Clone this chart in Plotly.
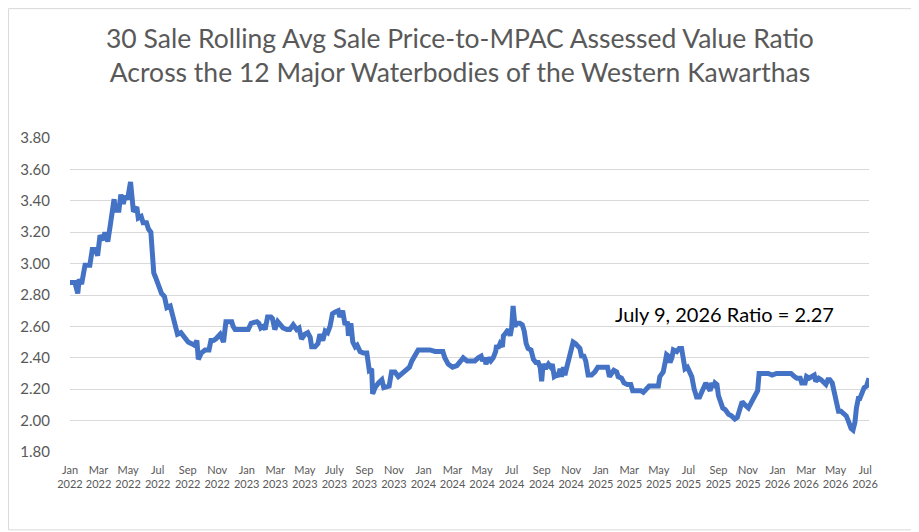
import pandas as pd
import plotly.graph_objects as go

# Sale dates expressed as days since 2022-01-01, and the 30-sale rolling avg ratio
start_date = "2022-01-01"
day_offsets = [
    0, 10, 16, 19, 24, 27, 31, 41, 46, 53, 57, 62, 69, 72, 78, 83, 86, 91, 94, 101,
    105, 110, 114, 119, 125, 129, 131, 138, 141, 147, 151, 158, 162, 167, 170, 173, 177, 182, 189, 195,
    200, 207, 211, 217, 222, 229, 235, 239, 244, 251, 257, 262, 265, 271, 279, 287, 291, 296, 301, 310,
    317, 322, 327, 334, 337, 341, 355, 368, 374, 386, 390, 394, 399, 403, 408, 415, 418, 423, 429, 436,
    440, 448, 454, 461, 468, 473, 478, 485, 491, 496, 499, 506, 512, 516, 522, 527, 532, 537, 542, 547,
    554, 557, 563, 568, 573, 575, 580, 584, 589, 593, 599, 606, 613, 618, 623, 625, 630, 637, 644, 648,
    655, 659, 664, 671, 678, 685, 690, 695, 701, 706, 712, 719, 730, 743, 754, 764, 770, 774, 781, 790,
    799, 807, 812, 820, 826, 836, 843, 849, 852, 856, 859, 864, 869, 874, 879, 881, 884, 888, 893, 895,
    898, 902, 905, 909, 912, 915, 919, 922, 929, 934, 938, 942, 946, 952, 957, 962, 967, 971, 974, 977,
    982, 988, 993, 996, 1000, 1005, 1008, 1012, 1015, 1019, 1022, 1026, 1030, 1035, 1039, 1044, 1048, 1053, 1057, 1060,
    1065, 1070, 1077, 1084, 1090, 1097, 1105, 1110, 1114, 1119, 1123, 1129, 1132, 1139, 1144, 1151, 1158, 1162, 1170, 1179,
    1184, 1191, 1196, 1205, 1215, 1218, 1222, 1225, 1229, 1232, 1236, 1239, 1243, 1246, 1253, 1258, 1263, 1267, 1270, 1275,
    1279, 1284, 1289, 1294, 1300, 1304, 1309, 1313, 1318, 1322, 1325, 1329, 1332, 1336, 1339, 1344, 1348, 1353, 1360, 1366,
    1373, 1378, 1384, 1388, 1394, 1401, 1406, 1412, 1416, 1420, 1423, 1432, 1442, 1450, 1459, 1470, 1480, 1489, 1496, 1501,
    1508, 1511, 1518, 1521, 1526, 1532, 1537, 1540, 1546, 1551, 1556, 1561, 1565, 1569, 1574, 1578, 1583, 1587, 1592, 1599,
    1603, 1607, 1613, 1617, 1621, 1624, 1628, 1631, 1635, 1640, 1645, 1650,
]
ratios = [
    2.88, 2.88, 2.81, 2.90, 2.87, 2.91, 2.99, 2.99, 3.09, 3.09, 3.05, 3.18, 3.15, 3.20, 3.14, 3.24, 3.32, 3.41, 3.34, 3.34,
    3.44, 3.38, 3.43, 3.41, 3.52, 3.41, 3.33, 3.36, 3.29, 3.30, 3.26, 3.26, 3.22, 3.20, 3.04, 2.94, 2.91, 2.86, 2.81, 2.79,
    2.72, 2.73, 2.68, 2.63, 2.55, 2.56, 2.54, 2.52, 2.50, 2.49, 2.48, 2.51, 2.39, 2.43, 2.45, 2.45, 2.51, 2.51, 2.52, 2.55,
    2.50, 2.63, 2.63, 2.63, 2.60, 2.58, 2.58, 2.58, 2.62, 2.63, 2.62, 2.59, 2.60, 2.58, 2.66, 2.66, 2.65, 2.58, 2.63, 2.61,
    2.59, 2.58, 2.58, 2.61, 2.58, 2.59, 2.52, 2.55, 2.56, 2.53, 2.47, 2.47, 2.49, 2.55, 2.51, 2.57, 2.56, 2.60, 2.68, 2.69,
    2.70, 2.66, 2.70, 2.61, 2.63, 2.54, 2.62, 2.50, 2.47, 2.48, 2.44, 2.43, 2.43, 2.32, 2.33, 2.17, 2.21, 2.24, 2.26, 2.21,
    2.22, 2.22, 2.31, 2.31, 2.28, 2.30, 2.31, 2.33, 2.34, 2.38, 2.41, 2.45, 2.45, 2.45, 2.44, 2.44, 2.44, 2.40, 2.36, 2.34,
    2.35, 2.38, 2.40, 2.38, 2.38, 2.38, 2.40, 2.41, 2.38, 2.40, 2.36, 2.40, 2.38, 2.40, 2.44, 2.48, 2.46, 2.49, 2.47, 2.54,
    2.55, 2.57, 2.58, 2.54, 2.59, 2.73, 2.60, 2.62, 2.62, 2.61, 2.57, 2.49, 2.46, 2.45, 2.39, 2.37, 2.37, 2.34, 2.25, 2.36,
    2.33, 2.36, 2.34, 2.36, 2.28, 2.29, 2.28, 2.33, 2.28, 2.34, 2.29, 2.34, 2.40, 2.46, 2.50, 2.49, 2.47, 2.46, 2.40, 2.42,
    2.38, 2.29, 2.29, 2.31, 2.34, 2.34, 2.34, 2.34, 2.28, 2.30, 2.32, 2.31, 2.28, 2.27, 2.24, 2.23, 2.23, 2.19, 2.19, 2.19,
    2.18, 2.20, 2.22, 2.22, 2.22, 2.28, 2.30, 2.31, 2.37, 2.42, 2.41, 2.37, 2.40, 2.45, 2.44, 2.46, 2.46, 2.36, 2.33, 2.34,
    2.31, 2.28, 2.20, 2.15, 2.15, 2.18, 2.23, 2.24, 2.21, 2.19, 2.24, 2.21, 2.24, 2.23, 2.16, 2.11, 2.08, 2.07, 2.04, 2.03,
    2.01, 2.02, 2.09, 2.12, 2.10, 2.08, 2.11, 2.15, 2.16, 2.19, 2.30, 2.30, 2.30, 2.29, 2.30, 2.30, 2.30, 2.30, 2.28, 2.27,
    2.27, 2.24, 2.24, 2.28, 2.27, 2.28, 2.29, 2.25, 2.27, 2.26, 2.24, 2.23, 2.26, 2.26, 2.24, 2.19, 2.11, 2.06, 2.06, 2.04,
    2.03, 2.00, 1.95, 1.94, 1.99, 2.08, 2.14, 2.14, 2.18, 2.21, 2.22, 2.27,
]

tick_dates = [
    "2022-01-01", "2022-03-01", "2022-05-01", "2022-07-01", "2022-09-01", "2022-11-01",
    "2023-01-01", "2023-03-01", "2023-05-01", "2023-07-01", "2023-09-01", "2023-11-01",
    "2024-01-01", "2024-03-01", "2024-05-01", "2024-07-01", "2024-09-01", "2024-11-01",
    "2025-01-01", "2025-03-01", "2025-05-01", "2025-07-01", "2025-09-01", "2025-11-01",
    "2026-01-01", "2026-03-01", "2026-05-01", "2026-07-01",
]
tick_labels = [
    "Jan<br>2022", "Mar<br>2022", "May<br>2022", "Jul<br>2022", "Sep<br>2022", "Nov<br>2022",
    "Jan<br>2023", "Mar<br>2023", "May<br>2023", "July<br>2023", "Sep<br>2023", "Nov<br>2023",
    "Jan<br>2024", "Mar<br>2024", "May<br>2024", "Jul<br>2024", "Sep<br>2024", "Nov<br>2024",
    "Jan<br>2025", "Mar<br>2025", "May<br>2025", "Jul<br>2025", "Sep<br>2025", "Nov<br>2025",
    "Jan<br>2026", "Mar<br>2026", "May<br>2026", "Jul<br>2026",
]
end_date = "2026-07-09"
title_text = ("30 Sale Rolling Avg Sale Price-to-MPAC Assessed Value Ratio<br>"
              "Across the 12 Major Waterbodies of the Western Kawarthas")
latest_label = "July 9, 2026 Ratio = 2.27"

dates = pd.Timestamp(start_date) + pd.to_timedelta(day_offsets, unit="D")

FONT = "Lato, 'Open Sans', sans-serif"
GRAY = "#595959"

fig = go.Figure()
fig.add_trace(go.Scatter(
    x=dates, y=ratios, mode="lines",
    line=dict(color="#4472C4", width=5),
    hoverinfo="x+y", showlegend=False,
))

fig.update_layout(
    width=911, height=524,
    margin=dict(l=62, r=50, t=130, b=80),
    paper_bgcolor="white", plot_bgcolor="white",
    font=dict(family=FONT, color=GRAY),
    xaxis=dict(
        type="date",
        range=[start_date, end_date],
        tickmode="array", tickvals=tick_dates, ticktext=tick_labels,
        tickangle=0,
        showgrid=False, zeroline=False, showline=False,
        ticks="", tickfont=dict(size=11, color=GRAY),
        ticklabelstandoff=10,
    ),
    yaxis=dict(
        range=[1.8, 3.8], dtick=0.2, tick0=1.8, tickformat=".2f",
        showgrid=True, gridcolor="#D9D9D9", gridwidth=1,
        zeroline=False, showline=False, ticks="",
        tickfont=dict(size=15, color=GRAY),
        ticklabelstandoff=19,
    ),
    annotations=[
        dict(
            x=0.488, y=1.264, xref="paper", yref="paper",
            text=title_text, showarrow=False,
            font=dict(size=26.5, color=GRAY, family=FONT),
            xanchor="center", yanchor="middle", align="center",
        ),
        dict(
            x="2025-09-14", y=2.68, xref="x", yref="y",
            text=latest_label, showarrow=False,
            font=dict(size=20, color="#000000", family=FONT),
            xanchor="center", yanchor="middle",
        ),
    ],
    shapes=[dict(
        type="rect", xref="paper", yref="paper",
        x0=-0.0770, x1=1.0600, y0=-0.248, y1=1.412,
        line=dict(color="#D9D9D9", width=1), fillcolor="rgba(0,0,0,0)",
        layer="below",
    )],
)

fig.write_html("out.html")
